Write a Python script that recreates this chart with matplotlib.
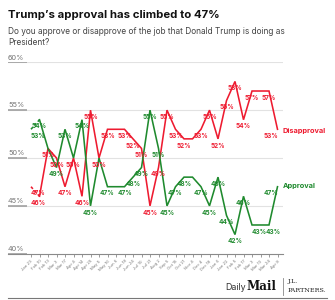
import matplotlib
matplotlib.use("Agg")
import matplotlib.pyplot as plt
import matplotlib.transforms as mtransforms

plt.rcParams['font.family'] = ['Inter', 'DejaVu Sans']

# ---------------- data ----------------
dates = ["Jan 23", "Feb 10", "Feb 13", "Mar 3", "Mar 17", "Apr 4", "Apr 14", "Apr 25",
         "May 5", "May 16", "Jun 6", "Jun 18", "Jun 24", "Jul 10", "Jul 21", "Aug 2",
         "Sep 5", "Oct 15", "Oct 21", "Nov 4", "Dec 4", "Dec 18", "Jan 6", "Jan 22",
         "Feb 5", "Feb 17", "Mar 3", "Mar 10", "Mar 24", "Apr 8"]
approval = [53, 54, 51, 49, 53, 50, 54, 45, 50, 47, 47, 47, 48, 49, 55, 51, 45, 47, 48, 48,
            47, 45, 48, 44, 42, 46, 43, 43, 43, 47]
disapproval = [47, 46, 51, 50, 47, 50, 46, 55, 50, 53, 53, 53, 52, 51, 45, 49, 55, 53, 52, 52,
               53, 55, 52, 56, 58, 54, 57, 57, 57, 53]
yticks = [40, 45, 50, 55, 60]

RED = '#ee1b30'
GREEN = '#1f8a2e'

W, H = 335, 300
fig = plt.figure(figsize=(W / 100, H / 100), dpi=100)

def fx(px):
    return px / W

def fy(py):
    return 1 - py / H

x_first, step = 31.0, 8.5
y_top, y_bot = 62.3, 253.7
ax_left, ax_right = 8.0, 283.0
ax = fig.add_axes([fx(ax_left), fy(y_bot), (ax_right - ax_left) / W, (y_bot - y_top) / H])
ax.set_xlim((ax_left - x_first) / step, (ax_right - x_first) / step)
ax.set_ylim(40, 60)
ax.patch.set_alpha(0)
for s in ['top', 'right', 'left']:
    ax.spines[s].set_visible(False)
ax.spines['bottom'].set_color('#8a8a8a')
ax.spines['bottom'].set_linewidth(0.8)
ax.set_yticks([])
xs = list(range(len(dates)))
ax.set_xticks(xs)
ax.set_xticklabels(dates, rotation=45, ha='right', rotation_mode='anchor',
                   fontsize=3.0, color='#777')
ax.tick_params(axis='x', length=2.5, width=0.6, color='#8a8a8a', pad=1.5)

blend = mtransforms.blended_transform_factory(ax.transAxes, ax.transData)
for v in yticks:
    if v != 40:
        ax.axhline(v, color='#e2e2e2', lw=0.8, zorder=0)
    ax.plot([0, 19 / 275], [v, v], transform=blend, color='#999', lw=1.1, zorder=1,
            solid_capstyle='butt')
    ax.annotate(f"{v}%", xy=(0, v), xycoords=blend, xytext=(0, 1.2),
                textcoords='offset points', fontsize=5.3, color='#777',
                ha='left', va='bottom')

# lines
dash = (0, (1.8, 1.4))
for vals, col in [(disapproval, RED), (approval, GREEN)]:
    ax.plot(xs[:2], vals[:2], color=col, lw=1.15, ls=dash, clip_on=False)
    ax.plot(xs[1:], vals[1:], color=col, lw=1.15, clip_on=False, solid_joinstyle='miter')

# point labels
red_skip = {10, 19, 27}
green_skip = {2, 5, 8, 10, 19, 26}
red_shift = {0: 7, 1: -1, 29: -7}
green_shift = {0: 7, 27: -1.5, 28: 4.5, 29: -7}
for i in xs:
    if i not in red_skip:
        ax.annotate(f"{disapproval[i]}%", xy=(i, disapproval[i]),
                    xytext=(red_shift.get(i, 0) * 0.72, -4.8), textcoords='offset points',
                    ha='center', va='center', fontsize=4.6, color=RED, weight='bold',
                    annotation_clip=False)
    if i not in green_skip:
        ax.annotate(f"{approval[i]}%", xy=(i, approval[i]),
                    xytext=(green_shift.get(i, 0) * 0.72, -4.8), textcoords='offset points',
                    ha='center', va='center', fontsize=4.6, color=GREEN, weight='bold',
                    annotation_clip=False)

ax.annotate("Disapproval", xy=(xs[-1], disapproval[-1]), xytext=(3.5, -1.5),
            textcoords='offset points', ha='left', va='center', fontsize=5.3,
            color=RED, weight='bold', annotation_clip=False)
ax.annotate("Approval", xy=(xs[-1], approval[-1]), xytext=(3.5, 0.3),
            textcoords='offset points', ha='left', va='center', fontsize=5.3,
            color=GREEN, weight='bold', annotation_clip=False)

# titles
fig.text(fx(8), fy(15), "Trump’s approval has climbed to 47%", fontsize=8.2,
         weight='bold', color='#111', ha='left', va='center')
fig.text(fx(8), fy(31), "Do you approve or disapprove of the job that Donald Trump is doing as",
         fontsize=6.0, color='#444', ha='left', va='center')
fig.text(fx(8), fy(42.5), "President?", fontsize=6.0, color='#444', ha='left', va='center')

# footer
fig.text(fx(225), fy(287), "Daily", fontsize=6.4, color='#333', ha='left', va='center')
fig.text(fx(246.5), fy(286.5), "Mail", fontsize=8.6, color='#111', ha='left', va='center',
         family='DejaVu Serif', weight='bold')
fig.add_artist(plt.Line2D([fx(283), fx(283)], [fy(278), fy(295)], color='#888', lw=0.6))
fig.text(fx(288), fy(282), "J.L.", fontsize=4.6, color='#222', ha='left', va='center',
         family='DejaVu Serif')
fig.text(fx(288), fy(290.5), "PARTNERS.", fontsize=4.6, color='#222', ha='left', va='center',
         family='DejaVu Serif')
fig.add_artist(plt.Line2D([fx(8), fx(327)], [fy(298), fy(298)], color='#777', lw=0.8))

fig.savefig("out.png", dpi=100, facecolor='white')
